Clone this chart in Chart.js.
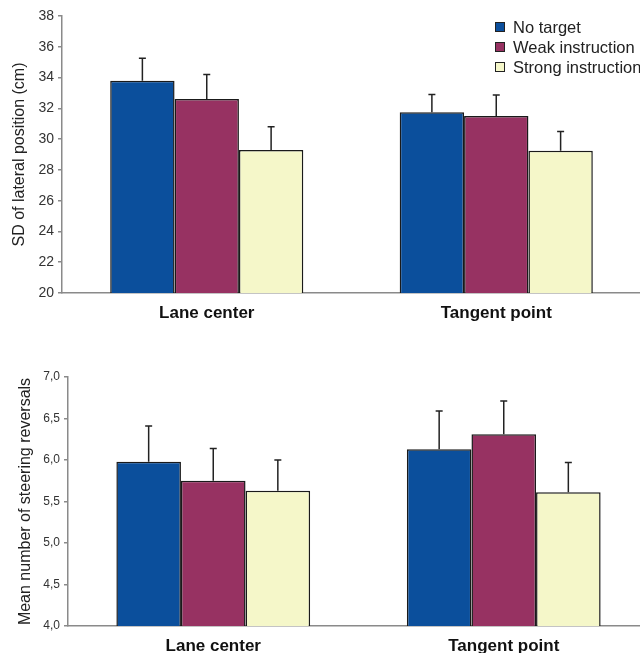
<!DOCTYPE html>
<html>
<head>
<meta charset="utf-8">
<script src="https://cdn.jsdelivr.net/npm/chart.js@4.4.1/dist/chart.umd.min.js"></script>
<style>
  html, body { margin: 0; padding: 0; background: #fff; overflow: hidden; }
  #wrap { position: relative; width: 640px; height: 653px; overflow: hidden; }
  .box { position: absolute; left: 0; }
  #topBox { top: 0; width: 641px; height: 325px; }
  #botBox { top: 360px; width: 649px; height: 293px; }
</style>
</head>
<body>
<div id="wrap">
  <div class="box" id="topBox"><canvas id="sdChart"></canvas></div>
  <div class="box" id="botBox"><canvas id="revChart"></canvas></div>
</div>
<script>
// ---- data ----
const categories  = ['Lane center', 'Tangent point']
const seriesNames = ['No target', 'Weak instruction', 'Strong instruction']
const barColors   = ['#0b4f9c', '#973262', '#f5f7c9']

// SD of lateral position (cm)
const sdNoTarget    = [33.8, 31.75]
const sdWeak        = [32.6, 31.5]
const sdStrong      = [29.3, 29.25]
const sdNoTargetErr = [1.45, 1.15]
const sdWeakErr     = [1.6, 1.37]
const sdStrongErr   = [1.5, 1.25]

// Mean number of steering reversals
const revNoTarget    = [5.98, 6.13]
const revWeak        = [5.75, 6.31]
const revStrong      = [5.63, 5.61]
const revNoTargetErr = [0.43, 0.46]
const revWeakErr     = [0.39, 0.40]
const revStrongErr   = [0.37, 0.36]

const FONT = "'Liberation Sans', Arial, Helvetica, sans-serif"

// ---- plugins ----
// up-only error bars, read from dataset.err
const errorBars = {
  id: 'errorBars',
  afterDatasetsDraw(chart) {
    const { ctx } = chart
    const yScale = chart.scales.y
    chart.data.datasets.forEach((ds, di) => {
      const meta = chart.getDatasetMeta(di)
      meta.data.forEach((bar, i) => {
        const top = yScale.getPixelForValue(ds.data[i] + ds.err[i])
        ctx.save()
        ctx.strokeStyle = '#222'
        ctx.lineWidth = 1.5
        ctx.beginPath()
        ctx.moveTo(bar.x, bar.y)
        ctx.lineTo(bar.x, top)
        ctx.moveTo(bar.x - 3.5, top)
        ctx.lineTo(bar.x + 3.5, top)
        ctx.stroke()
        ctx.restore()
      })
    })
  }
}

// legend inside the plot, top right
const boxLegend = {
  id: 'boxLegend',
  afterDraw(chart, args, opts) {
    if (!opts.show) return
    const { ctx } = chart
    ctx.save()
    ctx.font = `16.5px ${FONT}`
    ctx.textBaseline = 'middle'
    chart.data.datasets.forEach((ds, i) => {
      const y = opts.y + i * opts.gap
      ctx.fillStyle = ds.backgroundColor
      ctx.fillRect(opts.x, y - 5, 10, 10)
      ctx.strokeStyle = '#222'
      ctx.lineWidth = 1
      ctx.strokeRect(opts.x + 0.5, y - 4.5, 9, 9)
      ctx.fillStyle = '#222'
      ctx.fillText(ds.label, opts.x + 18, y + 1)
    })
    ctx.restore()
  }
}

// ---- builder ----
function makeDatasets(values, errs) {
  return values.map((v, i) => ({
    label: seriesNames[i],
    data: v,
    err: errs[i],
    backgroundColor: barColors[i],
    borderColor: '#1a1a1a',
    borderWidth: 1.5,
    borderSkipped: false,
    barPercentage: 1.0,
    categoryPercentage: 0.667,
  }))
}

function buildConfig(o) {
  return {
    type: 'bar',
    data: { labels: categories, datasets: makeDatasets(o.values, o.errs) },
    options: {
      responsive: true, maintainAspectRatio: false, animation: false,
      layout: { autoPadding: false, padding: { top: o.padTop, right: 0, bottom: 0, left: 0 } },
      plugins: {
        legend: { display: false },
        tooltip: { enabled: false },
        boxLegend: o.legend,
      },
      scales: {
        x: {
          grid: { display: false, drawTicks: false },
          border: { display: true, color: '#8a8a8a', width: 1.5 },
          ticks: { color: '#111', padding: 10, font: { family: FONT, size: 17, weight: 'bold' } },
          afterFit: s => { s.height = o.xHeight },
        },
        y: {
          min: o.min, max: o.max,
          grid: { drawOnChartArea: false, drawTicks: true, tickLength: 4, color: '#8a8a8a', lineWidth: 1.5 },
          border: { display: true, color: '#8a8a8a', width: 1.5 },
          ticks: {
            stepSize: o.step, color: '#333', padding: 4,
            font: { family: FONT, size: o.tickSize },
            callback: o.fmt,
          },
          title: {
            display: true, text: o.title, color: '#222',
            font: { family: FONT, size: o.titleSize },
            padding: { top: o.titlePad, bottom: 0 },
          },
          afterFit: s => { s.width = o.yWidth },
        }
      }
    },
    plugins: [errorBars, boxLegend]
  }
}

new Chart(document.getElementById('sdChart'), buildConfig({
  values: [sdNoTarget, sdWeak, sdStrong],
  errs:   [sdNoTargetErr, sdWeakErr, sdStrongErr],
  min: 20, max: 38, step: 2,
  fmt: v => v,
  tickSize: 14, title: 'SD of lateral position (cm)', titleSize: 16, titlePad: 10,
  padTop: 16, xHeight: 32, yWidth: 62,
  legend: { show: true, x: 495, y: 27, gap: 20 },
}))

new Chart(document.getElementById('revChart'), buildConfig({
  values: [revNoTarget, revWeak, revStrong],
  errs:   [revNoTargetErr, revWeakErr, revStrongErr],
  min: 4, max: 7, step: 0.5,
  fmt: v => v.toFixed(1).replace('.', ','),
  tickSize: 12, title: 'Mean number of steering reversals', titleSize: 16, titlePad: 16,
  padTop: 17, xHeight: 27, yWidth: 68,
  legend: { show: false },
}))
</script>
</body>
</html>
